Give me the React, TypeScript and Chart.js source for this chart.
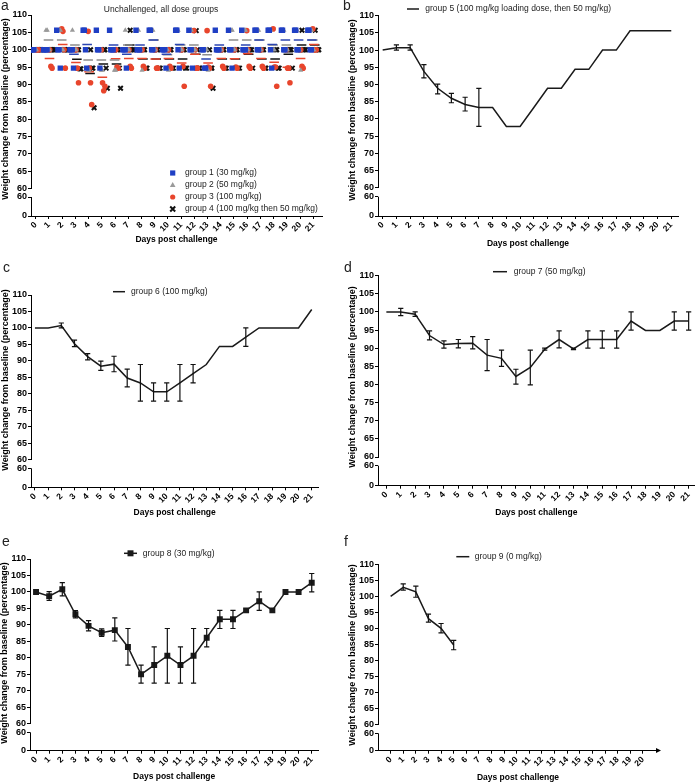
import React, { useEffect, useRef } from "react";
import { Chart, registerables } from "chart.js";

Chart.register(...registerables);

const FONT = "'Liberation Sans', Arial, Helvetica, sans-serif";
Chart.defaults.font.family = FONT;
Chart.defaults.color = "#000";

// ---------- categories / tick labels ----------
const days = [0, 1, 2, 3, 4, 5, 6, 7, 8, 9, 10, 11, 12, 13, 14, 15, 16, 17, 18, 19, 20, 21];
const dayLabels = ["0", "1", "2", "3", "4", "5", "6", "7", "8", "9", "10", "11", "12", "13", "14", "15", "16", "17", "18", "19", "20", "21"];
const daysF = [0, 1, 2, 3, 4, 5, 6, 7, 8, 9, 10, 11, 12, 13, 14, 15, 16, 17, 18, 19, 20];
const dayLabelsF = ["0", "1", "2", "3", "4", "5", "6", "7", "8", "9", "10", "11", "12", "13", "14", "15", "16", "17", "18", "19", "20"];
const upperTicks = [60, 65, 70, 75, 80, 85, 90, 95, 100, 105, 110];
const lowerTicks = [0, 60];

const xTitle = "Days post challenge";
const yTitle = "Weight change from baseline (percentage)";
const titleA = "Unchallenged, all dose groups";
const groupNames = [
  "group 1 (30 mg/kg)",
  "group 2 (50 mg/kg)",
  "group 3 (100 mg/kg)",
  "group 4 (100 mg/kg then 50 mg/kg)",
  "group 5 (100 mg/kg loading dose, then 50 mg/kg)",
  "group 6 (100 mg/kg)",
  "group 7 (50 mg/kg)",
  "group 8 (30 mg/kg)",
  "group 9 (0 mg/kg)",
];
const panelLetters = ["a", "b", "c", "d", "e", "f"];

// ---------- panel a: individual animals per day ----------
const g1Values = [
  [100, 100, 100, 100], [100, 100, 100, 100], [105.6, 100, 100, 94.7], [100, 100, 100, 94.7],
  [105.6, 105.6, 100, 94.7], [105.6, 100, 100, 94.7], [105.6, 100, 100, 100], [100, 100, 100, 94.7],
  [105.6, 100, 100, 100], [105.6, 105.6, 100, 100], [100, 100, 100, 94.7], [105.6, 105.6, 100, 94.7],
  [105.6, 100, 100, 94.7], [100, 100, 94.7, 94.7], [105.6, 100, 100, 100], [105.6, 100, 100, 94.7],
  [105.6, 100, 100, 100], [105.6, 105.6, 100, 100], [105.6, 105.6, 100, 94.7], [105.6, 105.6, 100, 100],
  [105.6, 105.6, 100, 100], [105.6, 105.6, 100, 100],
];
const g2Values = [
  [100, 100, 100, 100], [105.6, 105.6, 100, 100], [105.6, 105.6, 100, 100], [105.6, 100, 100, 100],
  [100, 100, 94.1, 94.1], [100, 100, 94.1, 94.1], [100, 100, 94.1, 94.1], [105.6, 100, 100, 100],
  [105.6, 100, 100, 94.1], [105.6, 105.6, 100, 100], [100, 100, 100, 94.1], [105.6, 100, 100, 100],
  [105.6, 100, 100, 100], [100, 100, 100, 94.1], [100, 100, 100, 100], [105.6, 105.6, 100, 100],
  [105.6, 105.6, 100, 100], [105.6, 105.6, 100, 100], [105.6, 100, 100, 100], [105.6, 100, 100, 100],
  [105.6, 100, 100, 94.1], [105.6, 105.6, 100, 100],
];
const g3Values = [
  [100, 100, 100, 100], [100, 100, 95.2, 94.7], [106, 105.3, 100, 94.7], [100, 100, 94.7, 90.5],
  [105.3, 94.7, 90.5, 84.2], [100, 90.5, 88.2, 89.5], [100, 100, 95, 94.7], [100, 100, 95.2, 94.7],
  [100, 100, 95.2, 94.7], [100, 100, 94.7, 94.7], [100, 100, 95.2, 94.7], [100, 100, 95.2, 89.5],
  [105.5, 100, 94.7, 94.7], [105.5, 95, 94.7, 89.5], [100, 100, 95.2, 94.7], [100, 100, 95, 94.7],
  [105.5, 100, 95.2, 94.7], [100, 100, 95.2, 94.7], [106, 95, 95, 89.5], [100, 94.7, 94.7, 90.5],
  [100, 100, 95.2, 94.7], [106, 100, 100, 100],
];
const g4Values = [
  [100, 100, 100, 100], [100, 100, 100, 100], [100, 100, 100, 100], [100, 100, 94.5, 94.5],
  [100, 94.7, 94.7, 83.3], [100, 100, 94.7, 88.9], [100, 100, 94.7, 88.9], [105.6, 100, 100, 100],
  [100, 100, 94.7, 94.7], [100, 100, 94.7, 94.7], [100, 100, 94.7, 94.7], [100, 100, 94.7, 94.7],
  [105.5, 100, 94.7, 94.7], [100, 94.7, 94.7, 88.9], [100, 100, 94.7, 94.7], [100, 100, 94.7, 94.7],
  [100, 100, 100, 94.7], [100, 100, 94.7, 94.7], [100, 100, 94.7, 94.7], [100, 100, 100, 94.7],
  [105.6, 100, 100, 100], [105.6, 100, 100, 100],
];

// ---------- panels b–f: mean with error bars ----------
const g5Mean = [100, 100.7, 100.7, 93.8, 88.9, 86, 84.2, 83.3, 83.3, 77.8, 77.8, 83.3, 88.9, 88.9, 94.4, 94.4, 100, 100, 105.6, 105.6, 105.6, 105.6];
const g5Low = [null, 100, 100, 91.9, 87.3, 84.7, 82.3, 77.8, null, null, null, null, null, null, null, null, null, null, null, null, null, null];
const g5High = [null, 101.5, 101.5, 95.8, 90.1, 87.4, 86.3, 88.9, null, null, null, null, null, null, null, null, null, null, null, null, null, null];

const g6Mean = [100, 100, 100.7, 95.2, 91.3, 88.4, 89, 84.8, 83.3, 80.6, 80.6, 83.3, 86.1, 88.9, 94.4, 94.4, 97.2, 100, 100, 100, 100, 105.6];
const g6Low = [null, null, 100, 94.3, 90.3, 87.1, 86.7, 82.1, 77.8, 77.8, 77.8, 77.8, 83.3, null, null, null, 94.4, null, null, null, null, null];
const g6High = [null, null, 101.5, 96.3, 92.2, 89.9, 91.4, 87.5, 88.9, 83.3, 83.3, 88.9, 88.9, null, null, null, 100, null, null, null, null, null];

const g7Mean = [100, 100, 99.4, 93.5, 91, 91.3, 91.4, 88.1, 87.2, 82.2, 84.7, 89.7, 92.4, 89.8, 92.4, 92.4, 92.4, 97.5, 94.9, 94.9, 97.5, 97.5];
const g7Low = [null, 99, 98.8, 92.3, 90, 90.1, 89.8, 83.8, 85, 80.1, 79.9, 89.5, 90.1, 89.6, 90, 90, 90, 95, null, null, 95, 95];
const g7High = [null, 101, 100, 94.8, 92, 92.4, 93.2, 92.4, 89.5, 84.2, 89.5, 90, 94.8, 90, 94.8, 94.8, 94.8, 100, null, null, 100, 100];

const g8Mean = [100, 98.7, 100.8, 93.2, 89.7, 87.6, 88.4, 83.3, 75, 77.8, 80.6, 77.8, 80.6, 86.1, 91.7, 91.7, 94.4, 97.2, 94.4, 100, 100, 102.8];
const g8Low = [null, 97.4, 98.8, 92.1, 88.2, 86.5, 85.1, 77.8, 72.3, 72.3, 72.3, 72.3, 72.3, 83.3, 88.9, 88.9, null, 94.4, null, null, null, 100];
const g8High = [null, 100.1, 102.8, 94.3, 91.3, 88.8, 92.1, 88.9, 77.8, 83.3, 88.9, 83.3, 88.9, 88.9, 94.4, 94.4, null, 100, null, null, null, 105.6];

const g9Days = [0, 1, 2, 3, 4, 5];
const g9Mean = [100, 102.8, 101.4, 93, 90, 84.8];
const g9Low = [null, 101.9, 99.7, 91.9, 88.6, 83.3];
const g9High = [null, 103.9, 103.2, 94.4, 91.5, 86.2];

// ---------- layout (page pixel geometry of each panel) ----------
type Geo = {
  L: number; T: number; R: number; U60: number; L60: number; B: number;
  xTitleY: number; yTitleY: number; xmin: number; xmax: number; ct: number;
  title?: string; arrow?: boolean;
  letterX: number; letterY: number;
  legend: { x: number; y: number; textX: number; len: number; gap: number };
};

const geoA: Geo = { L: 31, T: 15, R: 322, U60: 188.7, L60: 197, B: 216, xTitleY: 240, yTitleY: 109, xmin: -0.36, xmax: 21.66, ct: 0, title: titleA, letterX: 1, letterY: 6, legend: { x: 172.7, y: 173, textX: 185, len: 0, gap: 12 } };
const geoB: Geo = { L: 378, T: 15.7, R: 678, U60: 187.7, L60: 196.7, B: 216, xTitleY: 243.7, yTitleY: 110, xmin: -0.34, xmax: 21.49, ct: 0, letterX: 343, letterY: 6, legend: { x: 407, y: 9, textX: 425.3, len: 12, gap: 12 } };
const geoC: Geo = { L: 31, T: 295, R: 318.3, U60: 459.7, L60: 468.3, B: 487.3, xTitleY: 513, yTitleY: 380, xmin: -0.3, xmax: 21.5, ct: 258, letterX: 3, letterY: 268, legend: { x: 113, y: 291.7, textX: 131, len: 12, gap: 12 } };
const geoD: Geo = { L: 378, T: 275.7, R: 694.7, U60: 457, L60: 465.7, B: 485.7, xTitleY: 513, yTitleY: 377, xmin: -0.58, xmax: 21.42, ct: 258, letterX: 344, letterY: 268, legend: { x: 493, y: 271.7, textX: 513.7, len: 14, gap: 12 } };
const geoE: Geo = { L: 30, T: 559, R: 318.3, U60: 723.7, L60: 732.3, B: 750.7, xTitleY: 777, yTitleY: 653, xmin: -0.46, xmax: 21.5, ct: 530, letterX: 2, letterY: 542, legend: { x: 124, y: 553.3, textX: 142.7, len: 13, gap: 12 } };
const geoF: Geo = { L: 378, T: 564.3, R: 658, U60: 724.3, L60: 733.3, B: 750.7, xTitleY: 778, yTitleY: 655, xmin: -1.0, xmax: 21.2, ct: 530, arrow: true, letterX: 344, letterY: 542, legend: { x: 456.3, y: 556.7, textX: 474.7, len: 13, gap: 12 } };

const YW = 31;

// ---------- plugin: broken axis, error bars, y title, legend, arrow ----------
function drawMarker(ctx: CanvasRenderingContext2D, style: string, x: number, y: number, color: string, len: number) {
  ctx.save();
  ctx.fillStyle = color;
  ctx.strokeStyle = color;
  if (style === "rect") {
    ctx.fillRect(x - 2.6, y - 2.6, 5.2, 5.2);
  } else if (style === "triangle") {
    ctx.beginPath();
    ctx.moveTo(x, y - 3);
    ctx.lineTo(x + 2.8, y + 2);
    ctx.lineTo(x - 2.8, y + 2);
    ctx.closePath();
    ctx.fill();
  } else if (style === "circle") {
    ctx.beginPath();
    ctx.arc(x, y, 2.6, 0, Math.PI * 2);
    ctx.fill();
  } else if (style === "crossRot") {
    ctx.lineWidth = 2;
    ctx.beginPath();
    ctx.moveTo(x - 2.5, y - 2.5); ctx.lineTo(x + 2.5, y + 2.5);
    ctx.moveTo(x + 2.5, y - 2.5); ctx.lineTo(x - 2.5, y + 2.5);
    ctx.stroke();
  } else {
    ctx.lineWidth = 1.5;
    ctx.beginPath();
    ctx.moveTo(x, y); ctx.lineTo(x + len, y);
    ctx.stroke();
    if (style === "lineRect") {
      ctx.fillRect(x + len / 2 - 3, y - 3, 6, 6);
    }
  }
  ctx.restore();
}

const decoPlugin = {
  id: "panelDeco",
  afterDatasetsDraw(chart: any) {
    const ctx = chart.ctx;
    chart.data.datasets.forEach((ds: any, di: number) => {
      if (!ds.errLow) return;
      const meta = chart.getDatasetMeta(di);
      const ys = chart.scales.y;
      ctx.save();
      ctx.strokeStyle = "#111";
      ctx.lineWidth = 1.2;
      meta.data.forEach((pt: any, i: number) => {
        const lo = ds.errLow[i];
        const hi = ds.errHigh[i];
        if (lo == null || hi == null) return;
        const x = pt.x;
        const y1 = ys.getPixelForValue(lo);
        const y2 = ys.getPixelForValue(hi);
        const cap = 2.6;
        ctx.beginPath();
        ctx.moveTo(x, y1); ctx.lineTo(x, y2);
        ctx.moveTo(x - cap, y1); ctx.lineTo(x + cap, y1);
        ctx.moveTo(x - cap, y2); ctx.lineTo(x + cap, y2);
        ctx.stroke();
      });
      ctx.restore();
    });
  },
  afterDraw(chart: any) {
    const o = chart.config.options.deco;
    const ctx = chart.ctx;
    const area = chart.chartArea;
    const y0 = chart.scales.y0;
    ctx.save();
    // lower axis segment below the break
    const ax = Math.round(area.left - 0.5) + 0.5;
    ctx.strokeStyle = "#000";
    ctx.lineWidth = 1;
    ctx.beginPath();
    ctx.moveTo(ax, y0.getPixelForValue(60));
    ctx.lineTo(ax, area.bottom);
    ctx.stroke();
    // arrow at x axis end
    if (o.arrow) {
      const yb = Math.round(area.bottom - 0.5) + 0.5;
      ctx.fillStyle = "#000";
      ctx.beginPath();
      ctx.moveTo(area.right + 3, yb);
      ctx.lineTo(area.right - 2, yb - 2.5);
      ctx.lineTo(area.right - 2, yb + 2.5);
      ctx.closePath();
      ctx.fill();
    }
    // y axis title
    ctx.save();
    ctx.translate(o.yTitleX, o.yTitleY);
    ctx.rotate(-Math.PI / 2);
    ctx.font = `bold 9px ${FONT}`;
    ctx.fillStyle = "#000";
    ctx.textAlign = "center";
    ctx.textBaseline = "middle";
    ctx.fillText(o.yTitle, 0, 0);
    ctx.restore();
    // legend
    ctx.font = `8.5px ${FONT}`;
    ctx.textAlign = "left";
    ctx.textBaseline = "middle";
    o.items.forEach((it: any, i: number) => {
      const y = o.legendY + i * o.gap;
      drawMarker(ctx, it.style, o.legendX, y, it.color, o.len);
      ctx.fillStyle = "#222";
      ctx.fillText(it.text, o.textX, y);
    });
    ctx.restore();
  },
};

// ---------- chart config builder ----------
function buildConfig(g: Geo, datasets: any[], items: any[], tickVals: number[], tickLabels: string[]) {
  const cl = Math.floor(g.L - YW);
  const cw = Math.ceil(g.R + 8 - cl);
  const ch = Math.ceil(g.xTitleY + 5.1 - g.ct);
  const titleH = g.title ? 10.2 : 0;
  const xh = g.xTitleY + 5.1 - g.B;
  const padding = {
    left: g.L - YW - cl,
    right: cl + cw - g.R,
    top: g.T - g.ct - titleH,
    bottom: g.ct + ch - (g.xTitleY + 5.1),
  };
  const lowerMax = (60 * (g.B - g.U60)) / (g.B - g.L60);
  const tickFont = { size: 9, weight: "bold" as const };
  const grid = { display: true, drawOnChartArea: false, drawTicks: true, tickLength: 3, color: "#000", lineWidth: 1 };
  const config: any = {
    type: "scatter",
    data: { datasets },
    plugins: [decoPlugin],
    options: {
      responsive: false,
      animation: false,
      devicePixelRatio: 1,
      events: [],
      layout: { padding },
      deco: {
        arrow: !!g.arrow,
        yTitle,
        yTitleX: g.L - 25 - cl,
        yTitleY: g.yTitleY - g.ct,
        items,
        legendX: g.legend.x - cl,
        legendY: g.legend.y - g.ct,
        textX: g.legend.textX - cl,
        len: g.legend.len,
        gap: g.legend.gap,
      },
      plugins: {
        legend: { display: false },
        tooltip: { enabled: false },
        title: g.title
          ? { display: true, text: g.title, color: "#222", font: { size: 8.5, weight: "normal" }, padding: { top: 0, bottom: 0 } }
          : { display: false },
      },
      scales: {
        x: {
          type: "linear",
          position: "bottom",
          min: g.xmin,
          max: g.xmax,
          afterBuildTicks: (s: any) => { s.ticks = tickVals.map((v) => ({ value: v })); },
          afterFit: (s: any) => { s.height = xh; },
          ticks: {
            autoSkip: false,
            minRotation: 45,
            maxRotation: 45,
            padding: 1,
            color: "#000",
            font: { size: 8.5, weight: "bold" },
            callback: (v: any) => { const i = tickVals.indexOf(v); return i >= 0 ? tickLabels[i] : ""; },
          },
          grid,
          border: { display: true, color: "#000", width: 1 },
          title: { display: true, text: xTitle, color: "#000", font: { size: 8.5, weight: "bold" }, padding: 0 },
        },
        y: {
          type: "linear",
          position: "left",
          stack: "v",
          stackWeight: g.U60 - g.T,
          weight: 1,
          min: 60,
          max: 110,
          afterBuildTicks: (s: any) => { s.ticks = upperTicks.map((v) => ({ value: v })); },
          afterFit: (s: any) => { s.width = YW; },
          ticks: { autoSkip: false, padding: 1, color: "#000", font: tickFont },
          grid,
          border: { display: true, color: "#000", width: 1 },
        },
        y0: {
          type: "linear",
          position: "left",
          stack: "v",
          stackWeight: g.B - g.U60,
          weight: 0,
          min: 0,
          max: lowerMax,
          afterBuildTicks: (s: any) => { s.ticks = lowerTicks.map((v) => ({ value: v })); },
          afterFit: (s: any) => { s.width = YW; },
          ticks: { autoSkip: false, padding: 1, color: "#000", font: tickFont },
          grid,
          border: { display: false },
        },
      },
    },
  };
  return { config, cl, cw, ch };
}

// ---------- datasets ----------
function mean(a: number[]) { return a.reduce((s, v) => s + v, 0) / a.length; }

const aGroupValues = [g1Values, g2Values, g3Values, g4Values];
const aStyles = [
  { style: "rect", color: "#1f3fc4", radius: 3.8, bw: 0 },
  { style: "triangle", color: "#9a9a9a", radius: 3, bw: 0 },
  { style: "circle", color: "#e8452c", radius: 2.8, bw: 0 },
  { style: "crossRot", color: "#111111", radius: 3.2, bw: 2 },
];
const aMeanColors = ["#2b45b0", "#8c8c8c", "#e8452c", "#111111"];
const aOffsets = [-0.28, -0.09, 0.1, 0.28];

function panelADatasets() {
  const pts = aGroupValues.map((vals, gi) => ({
    label: groupNames[gi],
    data: days.flatMap((d, i) => vals[i].map((v, k) => ({ x: d + aOffsets[gi] + (k - (vals[i].length - 1) / 2) * 0.09, y: v }))),
    pointStyle: aStyles[gi].style,
    pointRadius: aStyles[gi].radius,
    backgroundColor: aStyles[gi].color,
    borderColor: aStyles[gi].color,
    borderWidth: aStyles[gi].bw,
    yAxisID: "y",
  }));
  const means = aGroupValues.map((vals, gi) => ({
    label: groupNames[gi] + " mean",
    data: days.map((d, i) => ({ x: d + aOffsets[gi] * 0.4, y: mean(vals[i]) })),
    pointStyle: "line",
    pointRadius: 4.8,
    borderColor: aMeanColors[gi],
    borderWidth: 1.5,
    yAxisID: "y",
  }));
  const items = aStyles.map((s, gi) => ({ style: s.style, color: s.color, text: groupNames[gi] }));
  return { datasets: [...pts, ...means], items };
}

function lineDataset(label: string, xs: number[], ys: number[], lo: (number | null)[], hi: (number | null)[], markers: boolean) {
  return {
    label,
    data: xs.map((d, i) => ({ x: d, y: ys[i] })),
    showLine: true,
    borderColor: "#1a1a1a",
    backgroundColor: "#1a1a1a",
    borderWidth: 1.5,
    pointStyle: "rect",
    pointRadius: markers ? 4.2 : 0,
    pointBorderWidth: 0,
    tension: 0,
    yAxisID: "y",
    errLow: lo,
    errHigh: hi,
  };
}

type PanelSpec = { geo: Geo; datasets: any[]; items: any[]; ticks: number[]; labels: string[] };

function makePanels(): PanelSpec[] {
  const a = panelADatasets();
  return [
    { geo: geoA, datasets: a.datasets, items: a.items, ticks: days, labels: dayLabels },
    { geo: geoB, datasets: [lineDataset(groupNames[4], days, g5Mean, g5Low, g5High, false)], items: [{ style: "line", color: "#1a1a1a", text: groupNames[4] }], ticks: days, labels: dayLabels },
    { geo: geoC, datasets: [lineDataset(groupNames[5], days, g6Mean, g6Low, g6High, false)], items: [{ style: "line", color: "#1a1a1a", text: groupNames[5] }], ticks: days, labels: dayLabels },
    { geo: geoD, datasets: [lineDataset(groupNames[6], days, g7Mean, g7Low, g7High, false)], items: [{ style: "line", color: "#1a1a1a", text: groupNames[6] }], ticks: days, labels: dayLabels },
    { geo: geoE, datasets: [lineDataset(groupNames[7], days, g8Mean, g8Low, g8High, true)], items: [{ style: "lineRect", color: "#1a1a1a", text: groupNames[7] }], ticks: days, labels: dayLabels },
    { geo: geoF, datasets: [lineDataset(groupNames[8], g9Days, g9Mean, g9Low, g9High, false)], items: [{ style: "line", color: "#1a1a1a", text: groupNames[8] }], ticks: daysF, labels: dayLabelsF },
  ];
}

function Panel({ spec }: { spec: PanelSpec }) {
  const ref = useRef<HTMLCanvasElement>(null);
  const built = buildConfig(spec.geo, spec.datasets, spec.items, spec.ticks, spec.labels);
  useEffect(() => {
    const b = buildConfig(spec.geo, spec.datasets, spec.items, spec.ticks, spec.labels);
    const chart = new Chart(ref.current as HTMLCanvasElement, b.config);
    return () => chart.destroy();
  }, []);
  return (
    <canvas
      ref={ref}
      width={built.cw}
      height={built.ch}
      style={{ position: "absolute", left: built.cl, top: spec.geo.ct, width: built.cw, height: built.ch }}
    />
  );
}

export default function App() {
  const panels = makePanels();
  return (
    <div style={{ position: "absolute", left: 0, top: 0, width: 696, height: 783, overflow: "hidden", background: "#fff" }}>
      {panels.map((p, i) => (
        <Panel key={i} spec={p} />
      ))}
      {panels.map((p, i) => (
        <div
          key={"l" + i}
          style={{ position: "absolute", left: p.geo.letterX, top: p.geo.letterY - 8, font: `14px ${FONT}`, lineHeight: "14px", color: "#222" }}
        >
          {panelLetters[i]}
        </div>
      ))}
    </div>
  );
}
